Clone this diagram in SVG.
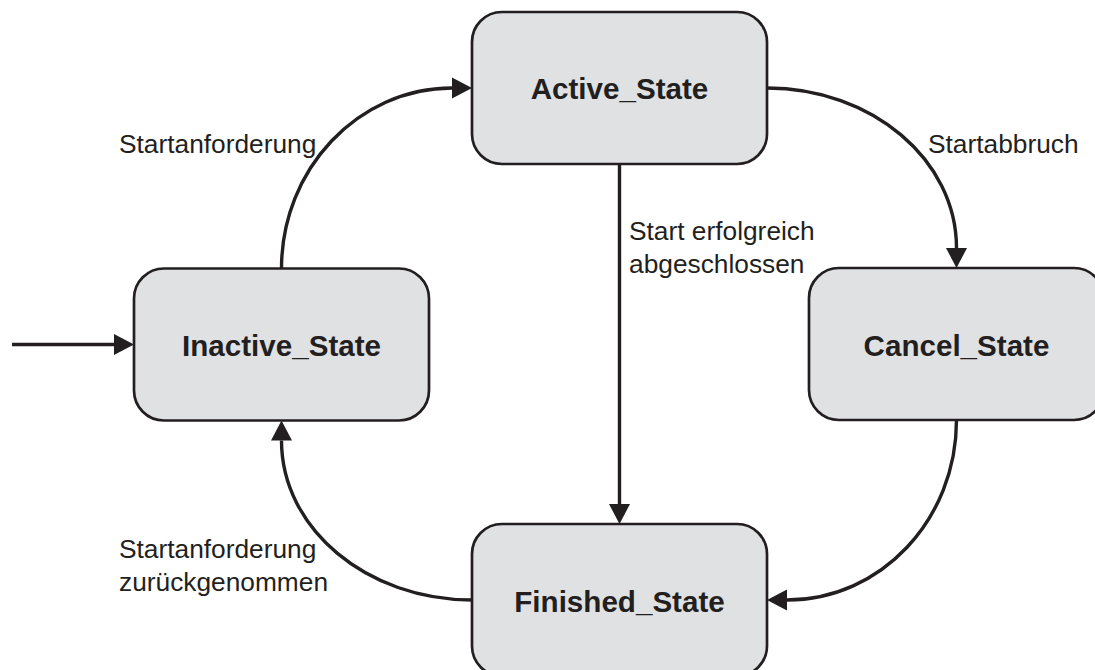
<svg xmlns="http://www.w3.org/2000/svg" width="1095" height="670" viewBox="0 0 1095 670">
  <style>
    .state rect { fill: #e0e1e3; stroke: #231f20; stroke-width: 2.7; }
    .state text { font-family: "Liberation Sans", Arial, sans-serif; font-weight: bold; font-size: 29.6px; fill: #231f20; text-anchor: middle; }
    .edge { fill: none; stroke: #231f20; stroke-width: 3.4; marker-end: url(#arrow); }
    .label { font-family: "Liberation Sans", Arial, sans-serif; font-size: 26.3px; fill: #231f20; }
  </style>
  <defs>
    <!-- arrowhead drawn from the end of each line (its base) out to the tip -->
    <marker id="arrow" markerUnits="userSpaceOnUse" markerWidth="22" markerHeight="22" refX="0" refY="10.5" orient="auto" overflow="visible">
      <path d="M0,0 L20,10.5 L0,21 Z" fill="#231f20"/>
    </marker>
  </defs>

  <rect width="1095" height="670" fill="#ffffff"/>

  <!-- connectors -->
  <g id="connectors">
    <!-- initial transition -->
    <path class="edge" d="M12 344.5 L114 344.5"/>
    <!-- Inactive -> Active -->
    <path class="edge" d="M281.5 268.5 C281.5 169.1 358.1 88 452 88"/>
    <!-- Active -> Cancel -->
    <path class="edge" d="M767 88 C871.7 88 956.5 159.6 956.5 248"/>
    <!-- Active -> Finished -->
    <path class="edge" d="M619.5 164 L619.5 504"/>
    <!-- Cancel -> Finished -->
    <path class="edge" d="M956.5 420 C956.5 519.4 881.1 600 787 600"/>
    <!-- Finished -> Inactive -->
    <path class="edge" d="M472 600 C367.1 600 281.5 528.8 281.5 440.5"/>
  </g>

  <!-- transition labels -->
  <g id="labels">
    <text class="label" x="119" y="152.5">Startanforderung</text>
    <text class="label" x="928" y="152.5">Startabbruch</text>
    <text class="label" x="629" y="239.5">Start erfolgreich</text>
    <text class="label" x="629" y="273">abgeschlossen</text>
    <text class="label" x="119" y="558">Startanforderung</text>
    <text class="label" x="119" y="591">zurückgenommen</text>
  </g>

  <!-- states -->
  <g id="active-state" class="state">
    <rect x="472" y="12" width="295" height="152" rx="30" ry="30"/>
    <text x="619.5" y="99">Active_State</text>
  </g>
  <g id="inactive-state" class="state">
    <rect x="134" y="268.5" width="295" height="152" rx="30" ry="30"/>
    <text x="281.5" y="355.5">Inactive_State</text>
  </g>
  <g id="cancel-state" class="state">
    <rect x="809" y="268" width="295" height="152" rx="30" ry="30"/>
    <text x="956.5" y="355.5">Cancel_State</text>
  </g>
  <g id="finished-state" class="state">
    <rect x="472" y="524" width="295" height="152" rx="30" ry="30"/>
    <text x="619.5" y="611.5">Finished_State</text>
  </g>
</svg>
